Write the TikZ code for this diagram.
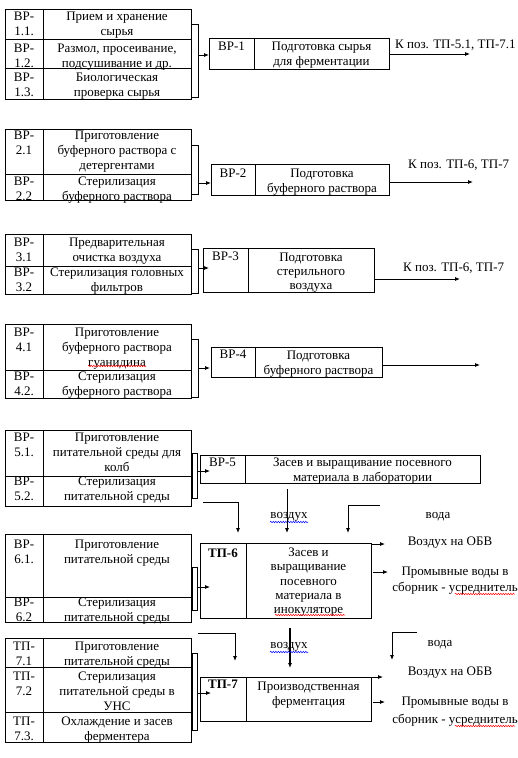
\documentclass[tikz,border=0pt]{standalone}
\usepackage{fontspec}
\setmainfont{Liberation Serif}
\usetikzlibrary{arrows.meta,decorations.pathmorphing}
\newcommand{\fsz}{\fontsize{13}{15}\selectfont}
\newcommand{\fszt}{\fontsize{13}{14.2}\selectfont}
\begin{document}
\begin{tikzpicture}[x=1pt,y=-1pt,
  txt/.style={font=\fsz, align=center, anchor=north, inner sep=0pt},
  txtt/.style={font=\fszt, align=center, anchor=north, inner sep=0pt},
  lbl/.style={font=\fsz, anchor=base, inner sep=0pt},
  lblw/.style={font=\fsz, anchor=base west, inner sep=0pt},
  tb/.style={line width=1pt},
  bx/.style={line width=0.8pt},
  arr/.style={line width=0.8pt, -{Latex[length=5pt,width=4pt]}},
  wavy/.style={line width=0.5pt, decorate, decoration={snake, amplitude=0.7pt, segment length=2.5pt}}
]
\useasboundingbox (0,0) rectangle (517,758);
\fill[white] (0,0) rectangle (517,758);

% ===== Group 1 =====
\draw[tb] (5,9) rectangle (191,99);
\draw[tb] (43,9) -- (43,99) (5,39) -- (191,39) (5,68) -- (191,68);
\node[txt] (a11) at (24,11.5) {ВР-\\1.1.};
\node[txt] (a12) at (117,11.5) {Прием и хранение\\сырья};
\node[txt] (a21) at (24,43.8) {ВР-\\1.2.};
\node[txt] (a22) at (117,43.8) {Размол, просеивание,\\подсушивание и др.};
\node[txt] (a31) at (24,73.2) {ВР-\\1.3.};
\node[txt] (a32) at (117,73.2) {Биологическая\\проверка сырья};
\draw[bx] (209,38) rectangle (389,69);
\draw[bx] (254,38) -- (254,69);
\node[txt] (b1a) at (231.5,41.8) {ВР-1};
\node[txt] (b1b) at (321.5,41.8) {Подготовка сырья\\для ферментации};
\draw[bx] (191,24) -- (198,24) -- (198,97) -- (191,97);
\coordinate (br1) at (198,55);
\coordinate (in1) at (209,55);
\draw[arr] (br1) -- (in1);
\coordinate (o1s) at (389,54);
\coordinate (o1e) at (470,54);
\draw[arr] (o1s) -- (o1e);
\node[lblw] (l1) at (395,48.5) {К поз. ТП-5.1, ТП-7.1};

% ===== Group 2 =====
\draw[tb] (5,129) rectangle (191,200);
\draw[tb] (43,129) -- (43,200) (5,174) -- (191,174);
\node[txt] (c11) at (24,131.2) {ВР-\\2.1};
\node[txt] (c12) at (117,131.2) {Приготовление\\буферного раствора с\\детергентами};
\node[txt] (c21) at (24,176.8) {ВР-\\2.2};
\node[txt] (c22) at (117,176.8) {Стерилизация\\буферного раствора};
\draw[bx] (211,164) rectangle (389,195);
\draw[bx] (255,164) -- (255,195);
\node[txt] (b2a) at (233,168.8) {ВР-2};
\node[txt] (b2b) at (322,168.8) {Подготовка\\буферного раствора};
\draw[bx] (191,145) -- (198,145) -- (198,194) -- (191,194);
\coordinate (br2) at (198,183);
\coordinate (in2) at (211,183);
\draw[arr] (br2) -- (in2);
\coordinate (o2s) at (389,182);
\coordinate (o2e) at (473,182);
\draw[arr] (o2s) -- (o2e);
\node[lblw] (l2) at (408,168) {К поз. ТП-6, ТП-7};

% ===== Group 3 =====
\draw[tb] (5,234) rectangle (191,294);
\draw[tb] (43,234) -- (43,294) (5,266) -- (191,266);
\node[txt] (d11) at (24,237.8) {ВР-\\3.1};
\node[txt] (d12) at (117,237.8) {Предварительная\\очистка воздуха};
\node[txt] (d21) at (24,267.8) {ВР-\\3.2};
\node[txt] (d22) at (117,267.8) {Стерилизация головных\\фильтров};
\draw[bx] (203,248) rectangle (374,292);
\draw[bx] (248,248) -- (248,292);
\node[txt] (b3a) at (225.5,251.3) {ВР-3};
\node[txtt] (b3b) at (311,252.3) {Подготовка\\стерильного\\воздуха};
\draw[bx] (191,249) -- (198,249) -- (198,293) -- (191,293);
\coordinate (br3) at (198,268);
\coordinate (in3) at (209,268);
\draw[arr] (br3) -- (in3);
\coordinate (o3s) at (374,279);
\coordinate (o3e) at (460,279);
\draw[arr] (o3s) -- (o3e);
\node[lblw] (l3) at (403,271.5) {К поз. ТП-6, ТП-7};

% ===== Group 4 =====
\draw[tb] (5,324) rectangle (191,398);
\draw[tb] (43,324) -- (43,398) (5,370) -- (191,370);
\node[txt] (e11) at (24,327.8) {ВР-\\4.1};
\node[txt] (e12) at (117,327.8) {Приготовление\\буферного раствора\\гуанидина};
\node[txt] (e21) at (24,371.8) {ВР-\\4.2.};
\node[txt] (e22) at (117,371.8) {Стерилизация\\буферного раствора};
\draw[wavy, red] (88,366) -- (146,366);
\draw[bx] (211,347) rectangle (382,377);
\draw[bx] (255,347) -- (255,377);
\node[txt] (b4a) at (233,349.8) {ВР-4};
\node[txt] (b4b) at (318.5,350.3) {Подготовка\\буферного раствора};
\draw[bx] (191,339) -- (198,339) -- (198,397) -- (191,397);
\coordinate (br4) at (198,368);
\coordinate (in4) at (210,368);
\draw[arr] (br4) -- (in4);
\coordinate (o4s) at (382,365);
\coordinate (o4e) at (480,365);
\draw[arr] (o4s) -- (o4e);

% ===== Group 5 =====
\draw[tb] (5,430) rectangle (191,506);
\draw[tb] (43,430) -- (43,506) (5,476) -- (191,476);
\node[txt] (f11) at (24,432.8) {ВР-\\5.1.};
\node[txt] (f12) at (117,432.8) {Приготовление\\питательной среды для\\колб};
\node[txt] (f21) at (24,476.8) {ВР-\\5.2.};
\node[txt] (f22) at (117,476.8) {Стерилизация\\питательной среды};
\draw[bx] (200,455) rectangle (480,483);
\draw[bx] (245,455) -- (245,483);
\node[txt] (b5a) at (222.5,457.8) {ВР-5};
\node[txt] (b5b) at (362.5,457.8) {Засев и выращивание посевного\\материала в лаборатории};
\draw[bx] (192,453) rectangle (197,498);
\coordinate (br5) at (197,471);
\coordinate (in5) at (210,471);
\draw[arr] (br5) -- (in5);

% ===== inputs to TP-6 =====
\node[lbl] (air1) at (289,518) {воздух};
\draw[wavy, blue] (270,522) -- (308,522);
\node[lbl] (wat1) at (438,518) {вода};
\coordinate (p6a) at (203,502);
\coordinate (p6ae) at (238,533);
\draw[arr] (p6a) -| (p6ae);
\coordinate (p6b) at (287,489);
\coordinate (p6be) at (287,533);
\draw[arr] (p6b) -- (p6be);
\coordinate (p6c) at (380,505);
\coordinate (p6ce) at (348,533);
\draw[arr] (p6c) -| (p6ce);

% ===== Group 6 =====
\draw[tb] (5,534) rectangle (191,622);
\draw[tb] (43,534) -- (43,622) (5,597) -- (191,597);
\node[txt] (g11) at (24,539.5) {ВР-\\6.1.};
\node[txt] (g12) at (117,539.5) {Приготовление\\питательной среды};
\node[txt] (g21) at (24,597.8) {ВР-\\6.2};
\node[txt] (g22) at (117,597.8) {Стерилизация\\питательной среды};
\draw[bx] (200,543) rectangle (371,618);
\draw[bx] (246,543) -- (246,618);
\node[txt, font=\fsz\bfseries] (b6a) at (223,548.3) {ТП-6};
\node[txtt] (b6b) at (308.5,547.8) {Засев и\\выращивание\\посевного\\материала в\\инокуляторе};
\draw[wavy, red] (275,615) -- (345,615);
\draw[bx] (192,567) rectangle (197,610);
\coordinate (br6) at (197,587);
\coordinate (in6) at (210,587);
\draw[arr] (br6) -- (in6);
\coordinate (o6as) at (371,544);
\coordinate (o6ae) at (385,544);
\draw[arr] (o6as) -- (o6ae);
\node[lbl] (l6a) at (450,545) {Воздух на ОБВ};
\coordinate (o6bs) at (373,572);
\coordinate (o6be) at (388,572);
\draw[arr] (o6bs) -- (o6be);
\node[txt] (l6b) at (455,566.3) {Промывные воды в\\[1.6pt]сборник - усреднитель};
\draw[wavy, red] (455,594) -- (515,594);

% ===== inputs to TP-7 =====
\coordinate (p7a) at (198,633);
\coordinate (p7ae) at (235,661);
\draw[arr] (p7a) -| (p7ae);
\coordinate (p7b) at (290,628);
\coordinate (p7be) at (290,668);
\draw[arr, line width=1.3pt] (p7b) -- (p7be);
\node[lbl] (air2) at (289,648) {воздух};
\draw[wavy, blue] (270,652) -- (308,652);
\coordinate (p7c) at (417,632);
\coordinate (p7ce) at (392,660);
\draw[arr] (p7c) -| (p7ce);
\node[lbl] (wat2) at (440,646.5) {вода};

% ===== Group 7 =====
\draw[tb] (5,638) rectangle (191,742);
\draw[tb] (43,638) -- (43,742) (5,667) -- (191,667) (5,712) -- (191,712);
\node[txt] (h11) at (24,641.3) {ТП-\\7.1};
\node[txt] (h12) at (117,641.3) {Приготовление\\питательной среды};
\node[txt] (h21) at (24,671.3) {ТП-\\7.2};
\node[txt] (h22) at (117,671.3) {Стерилизация\\питательной среды в\\УНС};
\node[txt] (h31) at (24,716.3) {ТП-\\7.3.};
\node[txt] (h32) at (117,716.3) {Охлаждение и засев\\ферментера};
\draw[bx] (200,677) rectangle (371,721);
\draw[bx] (246,677) -- (246,721);
\node[txt, font=\fsz\bfseries] (b7a) at (223,679.8) {ТП-7};
\node[txt] (b7b) at (308.5,681.3) {Производственная\\ферментация};
\draw[bx] (192,653) rectangle (197,730);
\coordinate (br7) at (197,693);
\coordinate (in7) at (211,693);
\draw[arr] (br7) -- (in7);
\coordinate (o7as) at (371,677);
\coordinate (o7ae) at (383,677);
\draw[arr] (o7as) -- (o7ae);
\node[lbl] (l7a) at (450,675) {Воздух на ОБВ};
\coordinate (o7bs) at (373,702);
\coordinate (o7be) at (385,702);
\draw[arr] (o7bs) -- (o7be);
\node[txt] (l7b) at (455,696.3) {Промывные воды в\\[3pt]сборник - усреднитель};
\draw[wavy, red] (455,726) -- (515,726);
\end{tikzpicture}
\end{document}
